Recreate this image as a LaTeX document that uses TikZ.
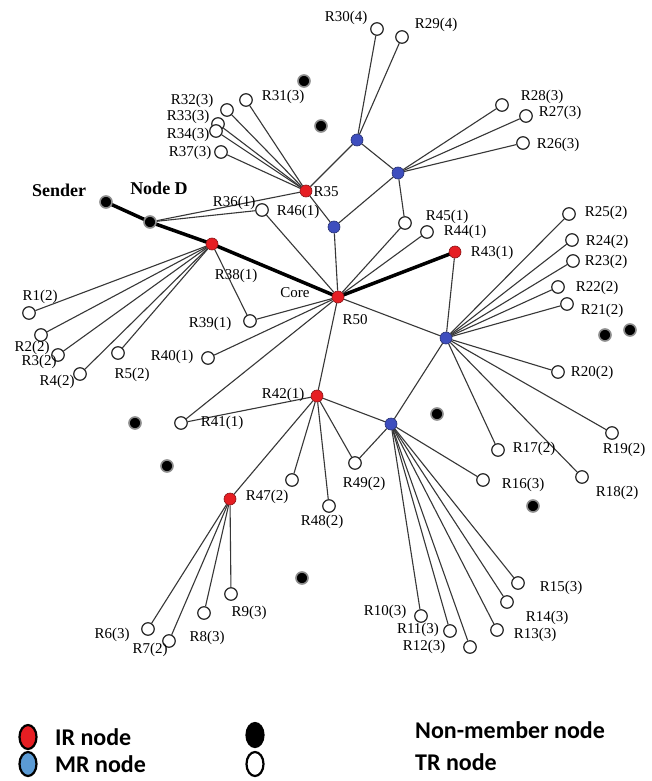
\documentclass[tikz,border=0pt]{standalone}
\usepackage{fontspec}
\setmainfont{Liberation Serif}
\newfontfamily\legfont{Carlito}
\usetikzlibrary{backgrounds,shapes.geometric}
\definecolor{irred}{RGB}{230,30,35}
\definecolor{mrblue}{RGB}{62,78,190}
\definecolor{legblue}{RGB}{91,155,213}
\definecolor{edgec}{RGB}{55,55,55}
\begin{document}
\begin{tikzpicture}[x=1pt,y=-1pt,
 tr/.style={circle,draw=black!85,fill=white,line width=1.2pt,minimum size=12.5pt,inner sep=0},
 ir/.style={circle,fill=irred,draw=irred!60!black,line width=0.6pt,minimum size=12pt,inner sep=0},
 mr/.style={circle,fill=mrblue,draw=mrblue!60!black,line width=0.6pt,minimum size=12pt,inner sep=0},
 nm/.style={circle,fill=black,draw=black!45,line width=1.6pt,minimum size=12pt,inner sep=0},
 lab/.style={inner sep=0,font=\fontsize{15}{15}\selectfont},
 blab/.style={inner sep=0,font=\fontsize{18}{18}\selectfont\bfseries},
 link/.style={draw=edgec,line width=1.1pt},
 route/.style={draw=black,line width=3.5pt},
 leg/.style={inner sep=0,anchor=west,font=\fontsize{24}{24}\selectfont\legfont\bfseries},
 legmark/.style={ellipse,draw=black,line width=2.2pt,minimum width=17pt,minimum height=24pt,inner sep=0}
]
\useasboundingbox (0,0) rectangle (651,781);

% coloured nodes
\node[nm] (Sender) at (106,202) {};
\node[nm] (NodeD) at (150,222) {};
\node[ir] (R38) at (212,244) {};
\node[ir] (Core) at (338,297) {};
\node[ir] (R43) at (455,252) {};
\node[ir] (R35) at (306,191) {};
\node[ir] (R42) at (317,396) {};
\node[ir] (R47) at (230,499) {};
\node[mr] (B1) at (357,140) {};
\node[mr] (B2) at (398,173) {};
\node[mr] (B3) at (334,227) {};
\node[mr] (B4) at (446,338) {};
\node[mr] (B5) at (391,424) {};
% non-member nodes
\node[nm] (N1) at (304,81) {};
\node[nm] (N2) at (321,126) {};
\node[nm] (N3) at (605,335) {};
\node[nm] (N4) at (630,330) {};
\node[nm] (N5) at (437,414) {};
\node[nm] (N6) at (135,423) {};
\node[nm] (N7) at (167,466) {};
\node[nm] (N8) at (533,506) {};
\node[nm] (N9) at (302,578) {};
% TR nodes
\node[tr] (R30) at (377,29) {};
\node[tr] (R29) at (402,37) {};
\node[tr] (R31) at (246,100) {};
\node[tr] (R32) at (227,110) {};
\node[tr] (R33) at (218,124) {};
\node[tr] (R34) at (216,131) {};
\node[tr] (R37) at (221,152) {};
\node[tr] (R28) at (502,105) {};
\node[tr] (R27) at (526,116) {};
\node[tr] (R26) at (523,143) {};
\node[tr] (R45) at (405,223) {};
\node[tr] (R44) at (427,232) {};
\node[tr] (R46) at (262,210) {};
\node[tr] (R25) at (569,214) {};
\node[tr] (R24) at (572,240) {};
\node[tr] (R23) at (573,261) {};
\node[tr] (R22) at (558,287) {};
\node[tr] (R21) at (567,304) {};
\node[tr] (R20) at (558,372) {};
\node[tr] (R19) at (612,433) {};
\node[tr] (R18) at (582,477) {};
\node[tr] (R17) at (498,450) {};
\node[tr] (R16) at (483,480) {};
\node[tr] (R15) at (518,583) {};
\node[tr] (R14) at (507,602) {};
\node[tr] (R13) at (497,630) {};
\node[tr] (R12) at (470,647) {};
\node[tr] (R11) at (450,631) {};
\node[tr] (R10) at (421,616) {};
\node[tr] (R9) at (231,594) {};
\node[tr] (R8) at (204,613) {};
\node[tr] (R7) at (169,641) {};
\node[tr] (R6) at (148,629) {};
\node[tr] (R47c) at (292,480) {};
\node[tr] (R48) at (329,506) {};
\node[tr] (R49) at (355,463) {};
\node[tr] (R41) at (181,423) {};
\node[tr] (R40) at (208,358) {};
\node[tr] (R39) at (250,321) {};
\node[tr] (R1) at (29,313) {};
\node[tr] (R2) at (41,335) {};
\node[tr] (R3) at (58,355) {};
\node[tr] (R4) at (80,374) {};
\node[tr] (R5) at (118,353) {};

% labels
\node[blab] (lSender) at (59,190) {Sender};
\node[blab] (lNodeD) at (159,188) {Node D};
\node[lab] (lR30) at (346,18) {R30(4)};
\node[lab] (lR29) at (436,25) {R29(4)};
\node[lab] (lR31) at (283,97) {R31(3)};
\node[lab] (lR32) at (192,101) {R32(3)};
\node[lab] (lR33) at (188,117) {R33(3)};
\node[lab] (lR34) at (188,135) {R34(3)};
\node[lab] (lR37) at (190,153) {R37(3)};
\node[lab] (lR35) at (326,192) {R35};
\node[lab] (lR28) at (542,97) {R28(3)};
\node[lab] (lR27) at (560,113) {R27(3)};
\node[lab] (lR26) at (558,145) {R26(3)};
\node[lab] (lR45) at (447,217) {R45(1)};
\node[lab] (lR44) at (465,232) {R44(1)};
\node[lab] (lR43) at (492,253) {R43(1)};
\node[lab] (lR25) at (606,213) {R25(2)};
\node[lab] (lR24) at (607,242) {R24(2)};
\node[lab] (lR23) at (606,262) {R23(2)};
\node[lab] (lR22) at (597,288) {R22(2)};
\node[lab] (lR21) at (602,311) {R21(2)};
\node[lab] (lR20) at (592,373) {R20(2)};
\node[lab] (lR19) at (624,450) {R19(2)};
\node[lab] (lR18) at (617,493) {R18(2)};
\node[lab] (lR17) at (534,449) {R17(2)};
\node[lab] (lR16) at (523,485) {R16(3)};
\node[lab] (lR15) at (561,588) {R15(3)};
\node[lab] (lR14) at (547,618) {R14(3)};
\node[lab] (lR13) at (535,635) {R13(3)};
\node[lab] (lR12) at (424,647) {R12(3)};
\node[lab] (lR11) at (418,630) {R11(3)};
\node[lab] (lR10) at (385,612) {R10(3)};
\node[lab] (lR9) at (249,613) {R9(3)};
\node[lab] (lR8) at (207,638) {R8(3)};
\node[lab] (lR7) at (150,650) {R7(2)};
\node[lab] (lR6) at (112,635) {R6(3)};
\node[lab] (lR47) at (267,497) {R47(2)};
\node[lab] (lR48) at (322,522) {R48(2)};
\node[lab] (lR49) at (364,484) {R49(2)};
\node[lab] (lR42) at (283,395) {R42(1)};
\node[lab] (lR41) at (222,423) {R41(1)};
\node[lab] (lR40) at (172,357) {R40(1)};
\node[lab] (lR39) at (210,324) {R39(1)};
\node[lab] (lR38) at (236,276) {R38(1)};
\node[lab] (lR50) at (355,320) {R50};
\node[lab] (lCore) at (295,293) {Core};
\node[lab] (lR36) at (234,203) {R36(1)};
\node[lab] (lR46) at (298,212) {R46(1)};
\node[lab] (lR1) at (40,297) {R1(2)};
\node[lab] (lR2) at (32,348) {R2(2)};
\node[lab] (lR3) at (39,362) {R3(2)};
\node[lab] (lR4) at (57,382) {R4(2)};
\node[lab] (lR5) at (132,375) {R5(2)};

% legend
\node[legmark,fill=irred] (kIR) at (28,737) {};
\node[leg] (tIR) at (55,737) {IR node};
\node[legmark,fill=legblue] (kMR) at (28,764) {};
\node[leg] (tMR) at (55,764) {MR node};
\node[legmark,fill=black] (kNM) at (255,735) {};
\node[leg] (tNM) at (415,730) {Non-member node};
\node[legmark,fill=white] (kTR) at (255,764) {};
\node[leg] (tTR) at (415,762) {TR node};

\begin{scope}[on background layer]
\fill[white] (0,0) rectangle (651,781);
\draw[route] (Sender.center) -- (NodeD.center) -- (R38.center) -- (Core.center) -- (R43.center);
\foreach \a/\b in {NodeD/R35,NodeD/R46,
  R35/R31,R35/R32,R35/R33,R35/R34,R35/R37,R35/B1,R35/B3,
  B1/R30,B1/R29,B1/B2,
  B2/R28,B2/R27,B2/R26,B2/R45,B2/B3,
  B3/Core,
  Core/R46,Core/R45,Core/R44,Core/R39,Core/R40,Core/R41,Core/R42,Core/B4,
  R38/R1,R38/R2,R38/R3,R38/R4,R38/R5,R38/R39,
  R43/B4,
  B4/R25,B4/R24,B4/R23,B4/R22,B4/R21,B4/R20,B4/R19,B4/R18,B4/R17,B4/B5,
  B5/R42,B5/R49,B5/R16,B5/R10,B5/R11,B5/R12,B5/R13,B5/R14,B5/R15,
  R42/R41,R42/R47,R42/R47c,R42/R48,R42/R49,
  R47/R6,R47/R7,R47/R8,R47/R9}
  \draw[link] (\a) -- (\b);
\end{scope}
\end{tikzpicture}
\end{document}
